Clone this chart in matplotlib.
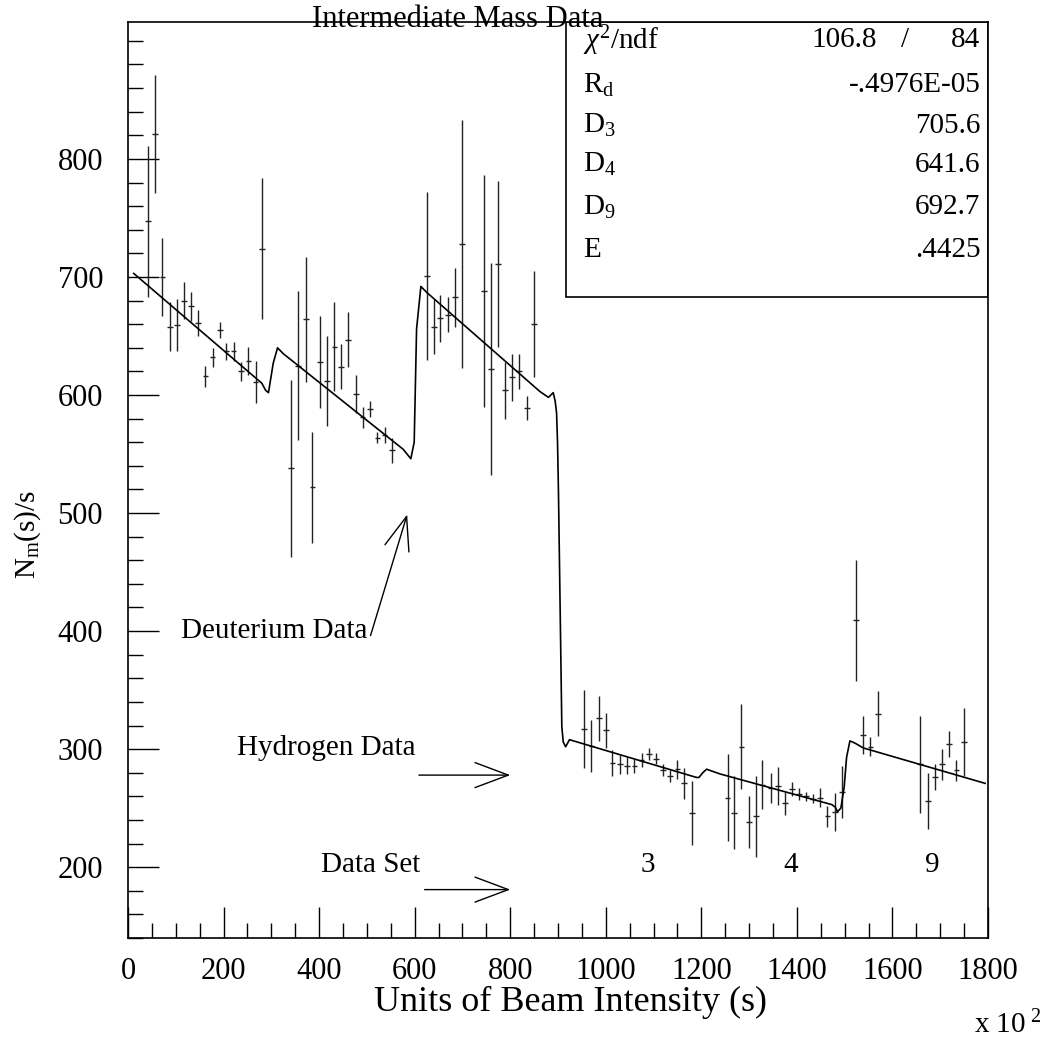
import numpy as np
import matplotlib
matplotlib.use('Agg')
from matplotlib import pyplot as plt
from matplotlib.patches import Rectangle
from matplotlib.ticker import MultipleLocator

plt.rcParams['font.family'] = ['Liberation Serif', 'DejaVu Serif']
plt.rcParams['mathtext.fontset'] = 'custom'
plt.rcParams['mathtext.rm'] = 'Liberation Serif'
plt.rcParams['mathtext.it'] = 'Liberation Serif:italic'

# measured points: beam intensity (x100), N_m(s)/s, error
deut_x = [42, 56, 72, 88, 102, 117, 132, 147, 162, 177, 192, 206, 221, 236, 252, 267, 281,
          341, 356, 372, 386, 402, 416, 432, 446, 461, 477, 491, 506, 522, 537, 552,
          626, 640, 653, 670, 684, 699, 745, 760, 774, 789, 804, 818, 835, 850]
deut_y = [747, 821, 700, 658, 659, 680, 675, 661, 616, 632, 655, 637, 637, 620, 629, 611, 724,
          538, 625, 664, 522, 628, 612, 641, 624, 647, 601, 581, 588, 564, 566, 553,
          701, 658, 665, 668, 683, 728, 688, 622, 711, 604, 615, 620, 589, 660]
deut_err = [64, 50, 33, 21, 22, 16, 12, 11, 9, 8, 7, 7, 8, 8, 12, 18, 60,
            75, 63, 53, 47, 39, 38, 38, 19, 23, 16, 9, 7, 5, 7, 11,
            71, 23, 20, 15, 25, 105, 98, 90, 70, 24, 20, 15, 10, 45]

hyd_x = [955, 970, 986, 1000, 1014, 1030, 1045, 1060, 1075, 1090, 1105, 1120, 1134, 1150, 1164, 1180,
         1255, 1269, 1284, 1300, 1314, 1328, 1345, 1360, 1375, 1389, 1404, 1419, 1434, 1448, 1464, 1480, 1494,
         1524, 1539, 1554, 1569, 1658, 1674, 1689, 1704, 1718, 1734, 1750]
hyd_y = [317, 303, 326, 316, 288, 287, 286, 286, 291, 296, 292, 282, 277, 283, 271, 246,
         259, 246, 302, 238, 243, 270, 267, 269, 254, 266, 262, 260, 258, 259, 243, 247, 264,
         409, 312, 302, 330, 287, 256, 276, 287, 304, 282, 306]
hyd_err = [33, 22, 19, 15, 11, 8, 7, 6, 6, 5, 5, 5, 5, 8, 13, 27,
           37, 31, 36, 22, 34, 21, 13, 16, 10, 6, 5, 4, 4, 8, 9, 16, 22,
           51, 16, 8, 19, 41, 24, 11, 13, 11, 9, 29]

# fitted curve, vertices
fit_x = [12, 280, 288, 294, 304, 313, 325, 576, 586, 592, 599, 604, 613, 625, 862, 880, 890,
         894, 897, 899, 901, 906, 908, 911, 916, 924, 1190, 1195, 1203, 1211, 1239, 1473, 1480,
         1485, 1492, 1499, 1504, 1511, 1522, 1539, 1794]
fit_y = [703, 610, 604, 602, 627, 640, 635, 554, 549, 546, 560, 656, 692, 687, 603, 598, 602,
         595, 585, 560, 517, 376, 319, 306, 302, 308, 276, 276, 280, 283, 279, 253, 251,
         247, 250, 268, 293, 307, 305, 301, 271]

stat_names = [r'R$_{\rm d}$', r'D$_{3}$', r'D$_{4}$', r'D$_{9}$', 'E']
stat_values = ['-.4976E-05', '705.6', '641.6', '692.7', '.4425']
chi2, ndf = '106.8', '84'
set_labels = ['3', '4', '9']
set_label_x = [1088, 1386, 1683]

fig = plt.figure(figsize=(10.41, 10.42), dpi=100)
ax = fig.add_axes([128 / 1041, 104 / 1042, 860 / 1041, 916 / 1042])

ax.errorbar(deut_x + hyd_x, deut_y + hyd_y, yerr=deut_err + hyd_err, xerr=6,
            fmt='none', ecolor='#222222', elinewidth=1.0, capsize=0)
ax.plot(fit_x, fit_y, color='black', lw=1.2)

ax.set_xlim(0, 1800)
ax.set_ylim(140, 916)
ax.xaxis.set_major_locator(MultipleLocator(200))
ax.xaxis.set_minor_locator(MultipleLocator(50))
ax.yaxis.set_major_locator(MultipleLocator(100))
ax.yaxis.set_minor_locator(MultipleLocator(20))
ax.tick_params(which='both', direction='in', top=False, right=False, width=1)
ax.tick_params(which='major', length=22, labelsize=22)
ax.tick_params(which='minor', length=11)
ax.tick_params(axis='x', which='major', pad=14)
ax.tick_params(axis='y', which='major', pad=18)
ax.set_yticks([200, 300, 400, 500, 600, 700, 800])
for s in ax.spines.values():
    s.set_linewidth(1.2)

# stats box
ax.add_patch(Rectangle((0.509, 0.70), 0.491, 0.30, transform=ax.transAxes,
                       fill=False, lw=1.2, zorder=5))
ax.text(0.529, 0.980, r'$\chi^{2}$/ndf', transform=ax.transAxes, fontsize=21, va='center')
ax.text(0.871, 0.980, chi2, transform=ax.transAxes, fontsize=21, va='center', ha='right')
ax.text(0.9035, 0.980, '/', transform=ax.transAxes, fontsize=21, va='center', ha='center')
ax.text(0.991, 0.980, ndf, transform=ax.transAxes, fontsize=21, va='center', ha='right')
row_y = [0.931, 0.887, 0.844, 0.798, 0.751]
for name, val, yy in zip(stat_names, stat_values, row_y):
    ax.text(0.529, yy, name, transform=ax.transAxes, fontsize=21, va='center')
    ax.text(0.991, yy, val, transform=ax.transAxes, fontsize=21, va='center', ha='right')

# annotations
arrow = dict(arrowstyle='->,head_length=1.2,head_width=0.45', mutation_scale=20, lw=1, color='black')
ax.text(502, 400, 'Deuterium Data', fontsize=21, ha='right', va='center')
ax.annotate('', xy=(586, 501), xytext=(506, 394), arrowprops=arrow)
ax.text(601, 301, 'Hydrogen Data', fontsize=21, ha='right', va='center')
ax.annotate('', xy=(806, 278), xytext=(603, 278), arrowprops=arrow)
ax.text(612, 202, 'Data Set', fontsize=21, ha='right', va='center')
ax.annotate('', xy=(806, 181), xytext=(615, 181), arrowprops=arrow)
for lab, xx in zip(set_labels, set_label_x):
    ax.text(xx, 202, lab, fontsize=21, ha='center', va='center')

fig.text(0.44, 0.981, 'Intermediate Mass Data', fontsize=22, ha='center', va='center')
fig.text(0.5476, 0.0384, 'Units of Beam Intensity (s)', fontsize=26, ha='center', va='center')
fig.text(0.968, 0.016, r'x 10$^{\ 2}$', fontsize=21, ha='center', va='center')
fig.text(0.027, 0.4866, r'N$_{\rm m}$(s)/s', fontsize=21, ha='center', va='center', rotation=90)

fig.savefig('out.png', dpi=100)
